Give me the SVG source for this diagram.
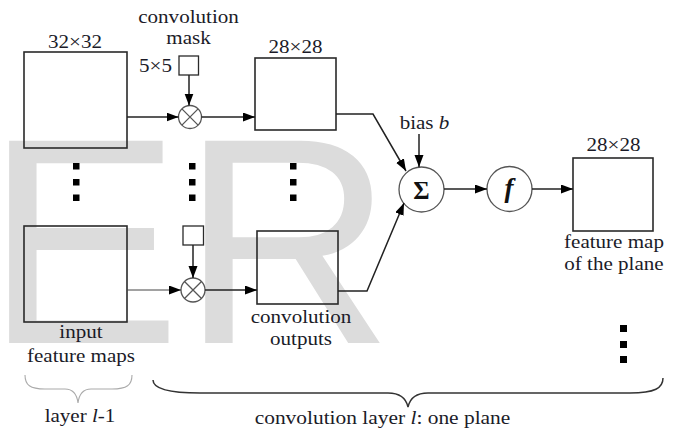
<svg xmlns="http://www.w3.org/2000/svg" width="678" height="432" viewBox="0 0 678 432">
<defs>
<style>
.wm{font-family:"Liberation Sans",Arial,sans-serif;font-size:294px;fill:#dcdcdc}
.t{font-family:"Liberation Serif","Times New Roman",serif;font-size:18px;fill:#1b1b28;text-anchor:middle}
.i{font-style:italic}
.box{fill:none;stroke:#2a2a2a;stroke-width:1.6}
.mask{fill:#fff;stroke:#2a2a2a;stroke-width:1.3}
.op{fill:#fff;stroke:#555;stroke-width:1.3}
.ln{fill:none;stroke:#222;stroke-width:1.5}
.thin{fill:none;stroke:#444;stroke-width:1}
.dot{fill:#000}
.brace{fill:none;stroke:#333;stroke-width:1.5}
.brace2{fill:none;stroke:#aaa;stroke-width:1.1}
</style>
<marker id="ah" markerUnits="userSpaceOnUse" markerWidth="13" markerHeight="10" refX="12" refY="4.5" orient="auto">
<path d="M0,0 L12,4.5 L0,9 z" fill="#000"/>
</marker>
</defs>
<rect width="678" height="432" fill="#fff"/>
<text class="wm" x="-15" y="343">ER</text>

<g id="input1">
<rect class="box" x="24" y="52" width="103" height="96"/>
<text class="t" transform="matrix(1.17 0 0 1 75 48)">32×32</text>
</g>
<g id="input2">
<rect class="box" x="24" y="226" width="103" height="96"/>
<text class="t" transform="matrix(1.17 0 0 1 81 338)">input</text>
<text class="t" transform="matrix(1.17 0 0 1 81 362)">feature maps</text>
</g>
<g id="mask1">
<rect class="mask" x="179" y="56" width="19.5" height="19"/>
<text class="t" transform="matrix(1.17 0 0 1 188.5 23)">convolution</text>
<text class="t" transform="matrix(1.17 0 0 1 188.5 44)">mask</text>
<text class="t" transform="matrix(1.17 0 0 1 155.5 72)">5×5</text>
</g>
<g id="mask2">
<rect class="mask" x="183" y="226" width="20.5" height="19"/>
</g>
<g id="mult1">
<circle class="op" cx="190" cy="117" r="11.5"/>
<path class="op" d="M181.9,108.9 L198.1,125.1 M198.1,108.9 L181.9,125.1" fill="none"/>
</g>
<g id="mult2">
<circle class="op" cx="193" cy="290" r="12"/>
<path class="op" d="M184.5,281.5 L201.5,298.5 M201.5,281.5 L184.5,298.5" fill="none"/>
</g>
<g id="conv1">
<rect class="box" x="255" y="58" width="81" height="72"/>
<text class="t" transform="matrix(1.17 0 0 1 295.5 53)">28×28</text>
</g>
<g id="conv2">
<rect class="box" x="257" y="231" width="81" height="73"/>
<text class="t" transform="matrix(1.17 0 0 1 301 323)">convolution</text>
<text class="t" transform="matrix(1.17 0 0 1 301 345)">outputs</text>
</g>
<g id="sum">
<circle class="op" cx="421.5" cy="189.5" r="22.5"/>
<text x="421.5" y="199" style="font-family:'Liberation Serif','Times New Roman',serif;font-size:25px;font-weight:bold;fill:#111;text-anchor:middle">Σ</text>
<text class="t" transform="matrix(1.17 0 0 1 424.5 129)">bias <tspan class="i">b</tspan></text>
</g>
<g id="act">
<circle class="op" cx="509.5" cy="189" r="22.5"/>
<text x="509" y="197" style="font-family:'Liberation Serif','Times New Roman',serif;font-size:27px;font-style:italic;font-weight:bold;fill:#111;text-anchor:middle">f</text>
</g>
<g id="out">
<rect class="box" x="573" y="158" width="80" height="73"/>
<text class="t" transform="matrix(1.17 0 0 1 613.5 151)">28×28</text>
<text class="t" transform="matrix(1.17 0 0 1 614 248)">feature map</text>
<text class="t" transform="matrix(1.17 0 0 1 614 270)">of the plane</text>
</g>

<g id="dots">
<rect class="dot" x="73" y="163" width="6.5" height="6.5"/>
<rect class="dot" x="73" y="179" width="6.5" height="6.5"/>
<rect class="dot" x="73" y="194.5" width="6.5" height="6.5"/>
<rect class="dot" x="189" y="163" width="6.5" height="6.5"/>
<rect class="dot" x="189" y="179" width="6.5" height="6.5"/>
<rect class="dot" x="189" y="194.5" width="6.5" height="6.5"/>
<rect class="dot" x="290" y="163" width="6.5" height="6.5"/>
<rect class="dot" x="290" y="179" width="6.5" height="6.5"/>
<rect class="dot" x="290" y="194.5" width="6.5" height="6.5"/>
<rect class="dot" x="620" y="325" width="7" height="7"/>
<rect class="dot" x="620" y="341" width="7" height="7"/>
<rect class="dot" x="620" y="356" width="7" height="7"/>
</g>

<g id="connectors">
<line class="ln" x1="127" y1="117" x2="178.5" y2="117" marker-end="url(#ah)"/>
<line class="ln" x1="189" y1="75" x2="189" y2="105.5" marker-end="url(#ah)"/>
<line class="ln" x1="201.5" y1="117" x2="255" y2="117" marker-end="url(#ah)"/>
<line class="thin" x1="127" y1="290" x2="181" y2="290" marker-end="url(#ah)"/>
<line class="ln" x1="193" y1="245" x2="193" y2="278" marker-end="url(#ah)"/>
<line class="ln" x1="205" y1="290" x2="257" y2="290" marker-end="url(#ah)"/>
<polyline class="ln" points="336,114 373,114 406,171" marker-end="url(#ah)"/>
<polyline class="ln" points="338,291 367,291 404,203" marker-end="url(#ah)"/>
<line class="ln" x1="419" y1="134" x2="419" y2="167" marker-end="url(#ah)"/>
<line class="ln" x1="444" y1="189" x2="487" y2="189" marker-end="url(#ah)"/>
<line class="ln" x1="532" y1="189" x2="573" y2="189" marker-end="url(#ah)"/>
</g>

<g id="braces">
<path class="brace2" d="M25,375 C25,385 30,389 45,389 L65,389 C73,389 77,395 78,403 C79,395 83,389 91,389 L112,389 C127,389 132,385 132,375"/>
<text class="t" transform="matrix(1.17 0 0 1 80 422)">layer <tspan class="i">l</tspan>-1</text>
<path class="brace" d="M153,380 C153,389 168,393 200,393 L388,393 C400,393 406,398 408,407 C410,398 416,393 428,393 L630,393 C655,393 663,388 663,378"/>
<text class="t" transform="matrix(1.19 0 0 1 382.5 424)">convolution layer <tspan class="i">l</tspan>: one plane</text>
</g>
</svg>
